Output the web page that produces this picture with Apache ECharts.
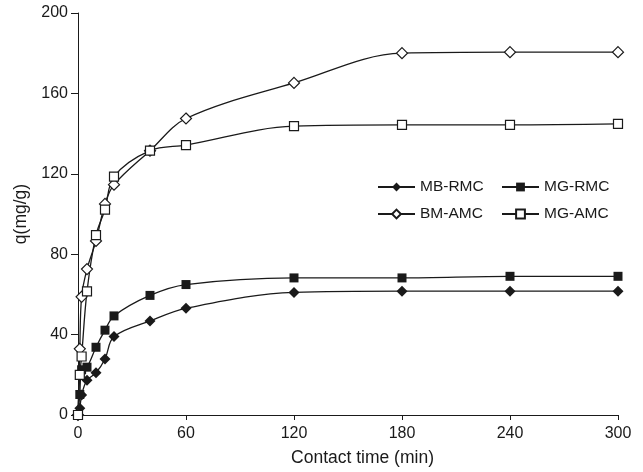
<!DOCTYPE html>
<html>
<head>
<meta charset="utf-8">
<script src="https://cdn.jsdelivr.net/npm/echarts@6/dist/echarts.min.js"></script>
<style>
  html, body { margin: 0; padding: 0; background: #fff; }
  #chart { width: 643px; height: 472px; }
</style>
</head>
<body>
<div id="chart"></div>
<script>
// Cinétique d'adsorption : q (mg/g) en fonction du temps de contact (min)
const times = [0, 1, 2, 5, 10, 15, 20, 40, 60, 120, 180, 240, 300];
const mbRmc = [0, 3.3, 9.9, 17.3, 21, 27.9, 39, 46.8, 53.1, 61, 61.6, 61.6, 61.6];
const mgRmc = [0, 10.2, 22.5, 23.8, 33.7, 42.2, 49.3, 59.5, 64.9, 68.2, 68.2, 69, 69];
const bmAmc = [0, 32.9, 58.8, 72.6, 86.6, 105, 114.6, 131.5, 147.5, 165.2, 180, 180.5, 180.5];
const mgAmc = [0, 20, 29.1, 61.5, 89.5, 102.2, 118.6, 131.5, 134.3, 143.7, 144.3, 144.3, 144.8];

const xTicks = [0, 60, 120, 180, 240, 300];
const yTicks = [0, 40, 80, 120, 160, 200];

const INK = '#1a1a1a';
const FONT = 'Liberation Sans, Arial, sans-serif';

function pairs(values) {
  return times.map((t, i) => [t, values[i]]);
}

function lineSeries(name, values, symbol, size, filled) {
  return {
    name,
    type: 'line',
    smooth: 0.35,
    symbol,
    symbolSize: size,
    showAllSymbol: true,
    lineStyle: { color: INK, width: 1.3 },
    itemStyle: {
      color: filled ? INK : '#fff',
      borderColor: INK,
      borderWidth: filled ? 0 : 1.2,
    },
    data: pairs(values),
    animation: false,
  };
}

// deux colonnes de légende pour aligner les items comme sur l'original
function legendCol(left, names) {
  return {
    left, top: 174,
    orient: 'vertical',
    itemGap: 11,
    itemWidth: 37,
    itemHeight: 11,
    data: names,
    textStyle: { color: INK, fontSize: 15.5, fontFamily: FONT },
    selectedMode: false,
  };
}

const chart = echarts.init(document.getElementById('chart'), null, { renderer: 'canvas' });
chart.setOption({
  backgroundColor: '#fff',
  textStyle: { fontFamily: FONT },
  grid: { left: 78, right: 25, top: 13, bottom: 54 },
  legend: [
    legendCol(372, ['MB-RMC', 'BM-AMC']),
    legendCol(496, ['MG-RMC', 'MG-AMC']),
  ],
  xAxis: {
    type: 'value',
    min: xTicks[0], max: xTicks[xTicks.length - 1], interval: 60,
    name: 'Contact time (min)',
    nameLocation: 'middle',
    nameGap: 34,
    nameTextStyle: { color: INK, fontSize: 17.5, padding: [0, 0, 0, 29] },
    axisLine: { lineStyle: { color: INK, width: 1 } },
    axisTick: { show: true, length: 5, inside: false, lineStyle: { color: INK } },
    axisLabel: { color: INK, fontSize: 16, margin: 11 },
    splitLine: { show: false },
  },
  yAxis: {
    type: 'value',
    min: yTicks[0], max: yTicks[yTicks.length - 1], interval: 40,
    name: 'q(mg/g)',
    nameLocation: 'middle',
    nameRotate: 90,
    nameGap: 47,
    nameTextStyle: { color: INK, fontSize: 17.5 },
    axisLine: { show: true, lineStyle: { color: INK, width: 1 } },
    axisTick: { show: true, length: 7, inside: false, lineStyle: { color: INK } },
    axisLabel: { color: INK, fontSize: 16, margin: 10 },
    splitLine: { show: false },
  },
  series: [
    lineSeries('MB-RMC', mbRmc, 'diamond', 11, true),
    lineSeries('MG-RMC', mgRmc, 'rect', 9, true),
    lineSeries('BM-AMC', bmAmc, 'diamond', 11, false),
    lineSeries('MG-AMC', mgAmc, 'rect', 9, false),
  ],
});
</script>
</body>
</html>
